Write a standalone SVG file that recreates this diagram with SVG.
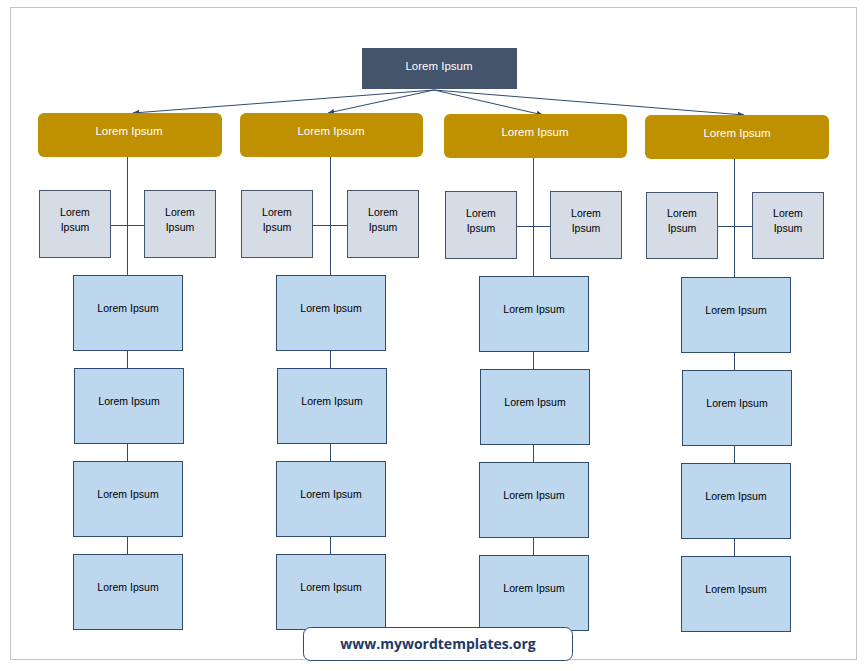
<svg xmlns="http://www.w3.org/2000/svg" width="867" height="671" viewBox="0 0 867 671">
<style>
.top{fill:#44546a}
.gold{fill:#bf9000}
.gray{fill:#d6dce5;stroke:#44546a;stroke-width:1}
.blue{fill:#bdd7ee;stroke:#2f4b70;stroke-width:1}
.wt{font-family:"Liberation Sans",Arial,sans-serif;font-size:11.5px;fill:#ffffff;text-anchor:middle}
.bt{font-family:"Liberation Sans",Arial,sans-serif;font-size:10.5px;fill:#000000;text-anchor:middle}
.ln{stroke:#2f4b70;stroke-width:1;fill:none}
.ar{stroke:#2f4b70;stroke-width:1;fill:none;marker-end:url(#ah)}
</style>
<defs>
<marker id="ah" viewBox="0 0 10 10" refX="9" refY="5" markerWidth="7" markerHeight="7" orient="auto" markerUnits="userSpaceOnUse">
<path d="M0,1 L10,5 L0,9 z" fill="#2f4b70"/>
</marker>
</defs>
<rect width="867" height="671" fill="#ffffff"/>
<rect x="10.5" y="7.5" width="846" height="652" fill="none" stroke="#c3c3c3" stroke-width="1"/>

<g id="connectors">
<line class="ar" x1="434" y1="90" x2="133" y2="113"/>
<line class="ar" x1="434" y1="90" x2="328" y2="113"/>
<line class="ar" x1="434" y1="90" x2="543" y2="115"/>
<line class="ar" x1="434" y1="90" x2="744" y2="115"/>
<line class="ln" x1="127.5" y1="157" x2="127.5" y2="629"/>
<line class="ln" x1="110" y1="225.5" x2="144" y2="225.5"/>
<line class="ln" x1="330.5" y1="157" x2="330.5" y2="629"/>
<line class="ln" x1="313" y1="225.5" x2="347" y2="225.5"/>
<line class="ln" x1="533.5" y1="158" x2="533.5" y2="630"/>
<line class="ln" x1="516" y1="226.5" x2="550" y2="226.5"/>
<line class="ln" x1="734.5" y1="159" x2="734.5" y2="631"/>
<line class="ln" x1="717" y1="226.5" x2="752" y2="226.5"/>
</g>

<g id="root">
<rect class="top" x="362" y="48" width="155" height="41"/>
<text class="wt" x="439" y="70">Lorem Ipsum</text>
</g>

<g id="g1"><rect class="gold" x="38" y="113" width="184" height="44" rx="6"/><text class="wt" x="129" y="135">Lorem Ipsum</text></g>
<g id="g2"><rect class="gold" x="240" y="113" width="183" height="44" rx="6"/><text class="wt" x="331" y="135">Lorem Ipsum</text></g>
<g id="g3"><rect class="gold" x="444" y="114" width="183" height="44" rx="6"/><text class="wt" x="535" y="136">Lorem Ipsum</text></g>
<g id="g4"><rect class="gold" x="645" y="115" width="184" height="44" rx="6"/><text class="wt" x="737" y="137">Lorem Ipsum</text></g>

<g id="s1a"><rect class="gray" x="39.5" y="190.5" width="71" height="67"/><text class="bt" x="75" y="216">Lorem</text><text class="bt" x="75" y="231">Ipsum</text></g>
<g id="s1b"><rect class="gray" x="144.5" y="190.5" width="71" height="67"/><text class="bt" x="180" y="216">Lorem</text><text class="bt" x="180" y="231">Ipsum</text></g>
<g id="s2a"><rect class="gray" x="241.5" y="190.5" width="71" height="67"/><text class="bt" x="277" y="216">Lorem</text><text class="bt" x="277" y="231">Ipsum</text></g>
<g id="s2b"><rect class="gray" x="347.5" y="190.5" width="71" height="67"/><text class="bt" x="383" y="216">Lorem</text><text class="bt" x="383" y="231">Ipsum</text></g>
<g id="s3a"><rect class="gray" x="445.5" y="191.5" width="71" height="67"/><text class="bt" x="481" y="217">Lorem</text><text class="bt" x="481" y="232">Ipsum</text></g>
<g id="s3b"><rect class="gray" x="550.5" y="191.5" width="71" height="67"/><text class="bt" x="586" y="217">Lorem</text><text class="bt" x="586" y="232">Ipsum</text></g>
<g id="s4a"><rect class="gray" x="646.5" y="192.5" width="71" height="66"/><text class="bt" x="682" y="217">Lorem</text><text class="bt" x="682" y="232">Ipsum</text></g>
<g id="s4b"><rect class="gray" x="752.5" y="192.5" width="71" height="66"/><text class="bt" x="788" y="217">Lorem</text><text class="bt" x="788" y="232">Ipsum</text></g>

<g id="b1a"><rect class="blue" x="73.5" y="275.5" width="109" height="75"/><text class="bt" x="128" y="312">Lorem Ipsum</text></g>
<g id="b1b"><rect class="blue" x="74.5" y="368.5" width="109" height="75"/><text class="bt" x="129" y="405">Lorem Ipsum</text></g>
<g id="b1c"><rect class="blue" x="73.5" y="461.5" width="109" height="75"/><text class="bt" x="128" y="498">Lorem Ipsum</text></g>
<g id="b1d"><rect class="blue" x="73.5" y="554.5" width="109" height="75"/><text class="bt" x="128" y="591">Lorem Ipsum</text></g>

<g id="b2a"><rect class="blue" x="276.5" y="275.5" width="109" height="75"/><text class="bt" x="331" y="312">Lorem Ipsum</text></g>
<g id="b2b"><rect class="blue" x="277.5" y="368.5" width="109" height="75"/><text class="bt" x="332" y="405">Lorem Ipsum</text></g>
<g id="b2c"><rect class="blue" x="276.5" y="461.5" width="109" height="75"/><text class="bt" x="331" y="498">Lorem Ipsum</text></g>
<g id="b2d"><rect class="blue" x="276.5" y="554.5" width="109" height="75"/><text class="bt" x="331" y="591">Lorem Ipsum</text></g>

<g id="b3a"><rect class="blue" x="479.5" y="276.5" width="109" height="75"/><text class="bt" x="534" y="313">Lorem Ipsum</text></g>
<g id="b3b"><rect class="blue" x="480.5" y="369.5" width="109" height="75"/><text class="bt" x="535" y="406">Lorem Ipsum</text></g>
<g id="b3c"><rect class="blue" x="479.5" y="462.5" width="109" height="75"/><text class="bt" x="534" y="499">Lorem Ipsum</text></g>
<g id="b3d"><rect class="blue" x="479.5" y="555.5" width="109" height="75"/><text class="bt" x="534" y="592">Lorem Ipsum</text></g>

<g id="b4a"><rect class="blue" x="681.5" y="277.5" width="109" height="75"/><text class="bt" x="736" y="314">Lorem Ipsum</text></g>
<g id="b4b"><rect class="blue" x="682.5" y="370.5" width="109" height="75"/><text class="bt" x="737" y="407">Lorem Ipsum</text></g>
<g id="b4c"><rect class="blue" x="681.5" y="463.5" width="109" height="75"/><text class="bt" x="736" y="500">Lorem Ipsum</text></g>
<g id="b4d"><rect class="blue" x="681.5" y="556.5" width="109" height="75"/><text class="bt" x="736" y="593">Lorem Ipsum</text></g>

<g id="website">
<rect x="303.5" y="627.5" width="269" height="33" rx="7" fill="#ffffff" stroke="#2f4b70" stroke-width="1"/>
<text x="438" y="649" font-family="'Open Sans','Liberation Sans',Arial,sans-serif" font-size="14px" font-weight="bold" fill="#1f3864" text-anchor="middle">www.mywordtemplates.org</text>
</g>
</svg>
